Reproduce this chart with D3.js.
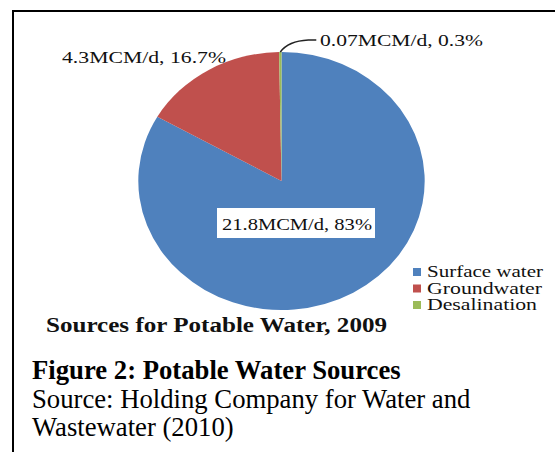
<!DOCTYPE html>
<html>
<head>
<meta charset="utf-8">
<script src="https://cdn.jsdelivr.net/npm/d3@7"></script>
<style>
  body { margin: 0; background: #fff; }
  svg { display: block; }
  text { font-family: 'Liberation Serif', 'Times New Roman', serif; fill: #111; }
</style>
</head>
<body>
<svg id="chart" width="555" height="452"></svg>
<script>
var sources = ['Surface water', 'Groundwater', 'Desalination']
var volumes = [21.8, 4.3, 0.07]
var labels = ['21.8MCM/d, 83%', '4.3MCM/d, 16.7%', '0.07MCM/d, 0.3%']
var colors = ['#4f81bd', '#c0504d', '#9bbb59']
var chartTitle = 'Sources for Potable Water, 2009'
var caption = ['Figure 2: Potable Water Sources', 'Source: Holding Company for Water and', 'Wastewater (2010)']

var svg = d3.select('#chart')

// frame of the figure box, right and bottom sides are off the page
svg.append('rect')
  .attr('x', 13)
  .attr('y', 11)
  .attr('width', 700)
  .attr('height', 600)
  .attr('fill', 'none')
  .attr('stroke', '#000')
  .attr('stroke-width', 2)

var data = sources.map(function (s, i) {
  return { name: s, value: volumes[i], label: labels[i], color: colors[i] }
})

var radius = 129
var stretch = 1.11 // the pasted chart is a bit wider than tall
var cx = 281.5
var cy = 181

var pie = d3.pie().sort(null).value(function (d) { return d.value })
var arcs = pie(data)
var arc = d3.arc().innerRadius(0).outerRadius(radius)
var edge = d3.arc().innerRadius(radius).outerRadius(radius)
var inner = d3.arc().innerRadius(0).outerRadius(100)

var pieG = svg.append('g')
  .attr('transform', 'translate(' + cx + ',' + cy + ') scale(' + stretch + ',1)')

pieG.selectAll('path.slice')
  .data(arcs)
  .enter()
  .append('path')
  .attr('class', 'slice')
  .attr('d', arc)
  .attr('fill', function (d) { return d.data.color })

function toPage (p) {
  return [cx + p[0] * stretch, cy + p[1]]
}

// big label inside the surface water slice
var c0 = toPage(inner.centroid(arcs[0]))
var box = { x: 217, y: 208, w: 158, h: 30 }
svg.append('rect')
  .attr('x', box.x)
  .attr('y', box.y)
  .attr('width', box.w)
  .attr('height', box.h)
  .attr('fill', '#fff')
svg.append('text')
  .attr('x', box.x + 5)
  .attr('y', box.y + 22)
  .attr('font-size', 17)
  .attr('textLength', 150)
  .attr('lengthAdjust', 'spacingAndGlyphs')
  .text(arcs[0].data.label)

// groundwater label sits above the red slice
svg.append('text')
  .attr('x', 62)
  .attr('y', 63)
  .attr('font-size', 17)
  .attr('textLength', 164)
  .attr('lengthAdjust', 'spacingAndGlyphs')
  .text(arcs[1].data.label)

// desalination label with leader line
var p2 = toPage(edge.centroid(arcs[2]))
svg.append('path')
  .attr('d', 'M' + p2[0] + ',' + p2[1] + ' Q' + (p2[0] + 8) + ',' + (p2[1] - 11) + ' ' + (p2[0] + 28) + ',' + (p2[1] - 12) + ' L' + (p2[0] + 36) + ',' + (p2[1] - 12))
  .attr('fill', 'none')
  .attr('stroke', '#222')
  .attr('stroke-width', 1.5)
svg.append('text')
  .attr('x', 320)
  .attr('y', 46)
  .attr('font-size', 17)
  .attr('textLength', 163)
  .attr('lengthAdjust', 'spacingAndGlyphs')
  .text(arcs[2].data.label)

// legend
var legendWidths = [116, 115, 110]
var legend = svg.append('g').attr('transform', 'translate(413,268)')
var rows = legend.selectAll('g')
  .data(data)
  .enter()
  .append('g')
  .attr('transform', function (d, i) { return 'translate(0,' + (i * 16.5) + ')' })
rows.append('rect')
  .attr('width', 8)
  .attr('height', 8)
  .attr('fill', function (d) { return d.color })
rows.append('text')
  .attr('x', 14)
  .attr('y', 9)
  .attr('font-size', 16)
  .attr('textLength', function (d, i) { return legendWidths[i] })
  .attr('lengthAdjust', 'spacingAndGlyphs')
  .text(function (d) { return d.name })

svg.append('text')
  .attr('x', 46)
  .attr('y', 332)
  .attr('font-size', 20)
  .attr('font-weight', 'bold')
  .attr('textLength', 341)
  .attr('lengthAdjust', 'spacingAndGlyphs')
  .text(chartTitle)

// caption under the chart
svg.selectAll('text.caption')
  .data(caption)
  .enter()
  .append('text')
  .attr('class', 'caption')
  .attr('x', 32)
  .attr('y', function (d, i) { return [379, 408, 436][i] })
  .attr('font-size', 26.7)
  .attr('font-weight', function (d, i) { return i === 0 ? 'bold' : 'normal' })
  .style('fill', '#000')
  .text(function (d) { return d })
</script>
</body>
</html>
